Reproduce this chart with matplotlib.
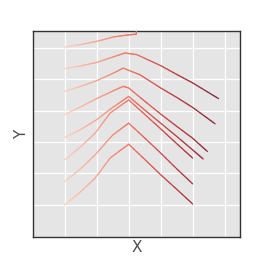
import numpy as np
import matplotlib
matplotlib.use("Agg")
import matplotlib.pyplot as plt
from matplotlib.collections import LineCollection
from matplotlib.colors import LinearSegmentedColormap

# Series (x, y) -- bottom line to top line
line_h_x = [0, 0.5, 0.95, 1.42, 2.0, 2.5, 3.0, 3.5, 4.0]
line_h_y = [0.0, 0.42, 0.85, 1.49, 1.93, 1.45, 0.96, 0.50, 0.03]

line_g_x = [0, 0.5, 0.95, 1.5, 2.0, 2.5, 3.0, 3.5, 4.0]
line_g_y = [0.74, 1.15, 1.59, 2.22, 2.60, 2.13, 1.65, 1.15, 0.67]

line_f_x = [0, 0.5, 0.95, 1.42, 2.0, 2.5, 3.0, 3.5, 4.0]
line_f_y = [1.43, 1.85, 2.28, 2.92, 3.34, 2.88, 2.42, 1.95, 1.49]

line_e_x = [0, 0.5, 1.0, 1.5, 2.0, 2.5, 3.0, 3.5, 4.0, 4.33]
line_e_y = [2.14, 2.40, 2.71, 3.10, 3.45, 3.02, 2.60, 2.18, 1.75, 1.46]

line_d_x = [0, 0.5, 1.0, 1.5, 1.83, 2.0, 2.5, 3.0, 3.5, 4.0, 4.46]
line_d_y = [2.87, 3.12, 3.38, 3.62, 3.77, 3.72, 3.30, 2.89, 2.50, 2.12, 1.70]

line_c_x = [0, 0.5, 1.0, 1.5, 1.83, 2.35, 3.0, 3.5, 4.0, 4.70]
line_c_y = [3.61, 3.77, 3.95, 4.18, 4.35, 4.14, 3.72, 3.42, 3.10, 2.58]

line_b_x = [0, 0.5, 1.0, 1.5, 1.88, 2.25, 3.0, 3.5, 4.0, 4.81]
line_b_y = [4.33, 4.42, 4.53, 4.70, 4.83, 4.78, 4.43, 4.15, 3.88, 3.38]

line_a_x = [0, 0.5, 1.0, 1.52, 1.94, 2.24, 2.25]
line_a_y = [5.02, 5.10, 5.20, 5.34, 5.40, 5.43, 8.0]

series = [
    (line_h_x, line_h_y), (line_g_x, line_g_y), (line_f_x, line_f_y),
    (line_e_x, line_e_y), (line_d_x, line_d_y), (line_c_x, line_c_y),
    (line_b_x, line_b_y), (line_a_x, line_a_y),
]

grid_ticks = [0, 1, 2, 3, 4, 5]

cmap = LinearSegmentedColormap.from_list(
    "peach_red",
    [(0.0, "#fdd3c2"), (0.42, "#f07563"), (0.75, "#b83c44"), (1.0, "#7a2838")],
)
norm = plt.Normalize(0, 4.81)

fig = plt.figure(figsize=(2.66, 2.66), dpi=100)
ax = fig.add_axes([33 / 266, 29 / 266, 207 / 266, 206 / 266])
ax.set_facecolor("#e5e5e5")

for xs, ys in series:
    xs = np.asarray(xs, float)
    ys = np.asarray(ys, float)
    segs, cols = [], []
    for i in range(len(xs) - 1):
        # split each straight segment into pieces only to shade the colour along x
        n = 12
        t = np.linspace(0, 1, n + 1)
        px = xs[i] + (xs[i + 1] - xs[i]) * t
        py = ys[i] + (ys[i + 1] - ys[i]) * t
        for k in range(n):
            segs.append([(px[k], py[k]), (px[k + 1], py[k + 1])])
            cols.append((px[k] + px[k + 1]) / 2)
    lc = LineCollection(segs, cmap=cmap, norm=norm, linewidths=0.9,
                        capstyle="round", zorder=3)
    lc.set_array(np.array(cols))
    ax.add_collection(lc)

ax.set_xlim(-0.99, 5.48)
ax.set_ylim(-1.02, 5.53)
ax.set_xticks(grid_ticks)
ax.set_yticks(grid_ticks)
ax.tick_params(length=0, labelbottom=False, labelleft=False)
ax.grid(True, color="white", linewidth=0.9)
ax.set_axisbelow(True)
for sp in ax.spines.values():
    sp.set_color("#333333")
    sp.set_linewidth(1.0)

ax.set_xlabel("X", fontsize=11, color="#4d4d4d", labelpad=2)
ax.set_ylabel("Y", fontsize=11, color="#4d4d4d", labelpad=3)

fig.savefig("out.png", dpi=100, facecolor="white")
